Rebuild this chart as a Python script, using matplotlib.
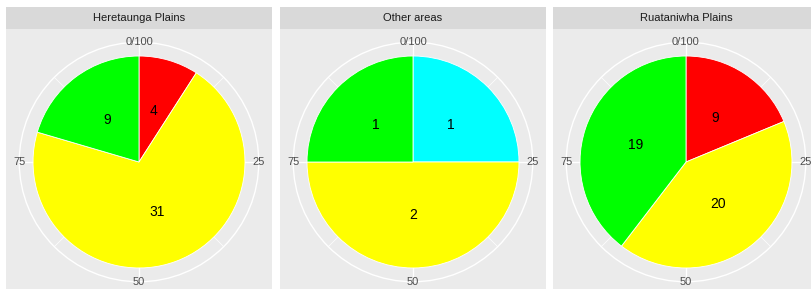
import numpy as np
import matplotlib
matplotlib.use('Agg')
import matplotlib.pyplot as plt
from matplotlib.patches import Circle

plt.rcParams['font.family'] = ['Liberation Sans', 'DejaVu Sans']

# facets and their counts per colour class
areas = ['Heretaunga Plains', 'Other areas', 'Ruataniwha Plains']
classes = ['red', 'cyan', 'yellow', 'green']
class_colours = ['#FF0000', '#00FFFF', '#FFFF00', '#00FF00']
heretaunga = [4, 0, 31, 9]
other_areas = [0, 1, 2, 1]
ruataniwha = [9, 0, 20, 19]
counts = [heretaunga, other_areas, ruataniwha]

# percent scale round the pie
theta_breaks = [0, 25, 50, 75]
theta_labels = ['0/100', '25', '50', '75']
theta_minor = [12.5, 37.5, 62.5, 87.5]

W, H = 811, 289
fig = plt.figure(figsize=(W / 100, H / 100), dpi=100)
fig.patch.set_facecolor('white')

panel_left = [6, 280, 553]
panel_w = 266
strip_top, strip_h = 7, 22
outer_r = 1.13

for left, name, vals in zip(panel_left, areas, counts):
    # strip
    sax = fig.add_axes([left / W, (H - strip_top - strip_h) / H, panel_w / W, strip_h / H])
    sax.set_facecolor('#D9D9D9')
    sax.set_xticks([])
    sax.set_yticks([])
    for s in sax.spines.values():
        s.set_visible(False)
    sax.text(0.5, 0.5, name, ha='center', va='center', fontsize=8, color='#1A1A1A',
             transform=sax.transAxes)

    # panel (square, bottom runs off the figure)
    top = strip_top + strip_h
    ax = fig.add_axes([left / W, (H - top - panel_w) / H, panel_w / W, panel_w / H])

    # grid: outer circle and radial lines
    ax.add_patch(Circle((0, 0), outer_r, fill=False, edgecolor='white', lw=1.0, zorder=0.5))
    for b in theta_breaks:
        a = np.deg2rad(b / 100 * 360)
        ax.plot([0, outer_r * np.sin(a)], [0, outer_r * np.cos(a)], color='white', lw=1.0, zorder=0.5)
    for b in theta_minor:
        a = np.deg2rad(b / 100 * 360)
        ax.plot([0, outer_r * np.sin(a)], [0, outer_r * np.cos(a)], color='white', lw=0.5, zorder=0.5)

    sizes = [v for v in vals if v > 0]
    cols = [c for v, c in zip(vals, class_colours) if v > 0]
    total = sum(sizes)
    ax.pie(sizes, colors=cols, startangle=90, counterclock=False, radius=1,
           wedgeprops=dict(edgecolor='white', linewidth=0.6),
           autopct=lambda p, t=total: '{:d}'.format(int(round(p * t / 100))),
           pctdistance=0.5, textprops=dict(fontsize=10, color='black'))

    for b, lab in zip(theta_breaks, theta_labels):
        a = np.deg2rad(b / 100 * 360)
        ax.text(outer_r * np.sin(a), outer_r * np.cos(a), lab, ha='center', va='center',
                fontsize=8, color='#4D4D4D', clip_on=False, zorder=3)

    ax.set_frame_on(True)
    for s in ax.spines.values():
        s.set_visible(False)
    ax.set_facecolor('#EBEBEB')
    ax.set_aspect('auto')
    ax.set_xlim(-1.255, 1.255)
    ax.set_ylim(-1.255, 1.255)
    ax.set_xticks([])
    ax.set_yticks([])

fig.savefig('out.png', dpi=100)
